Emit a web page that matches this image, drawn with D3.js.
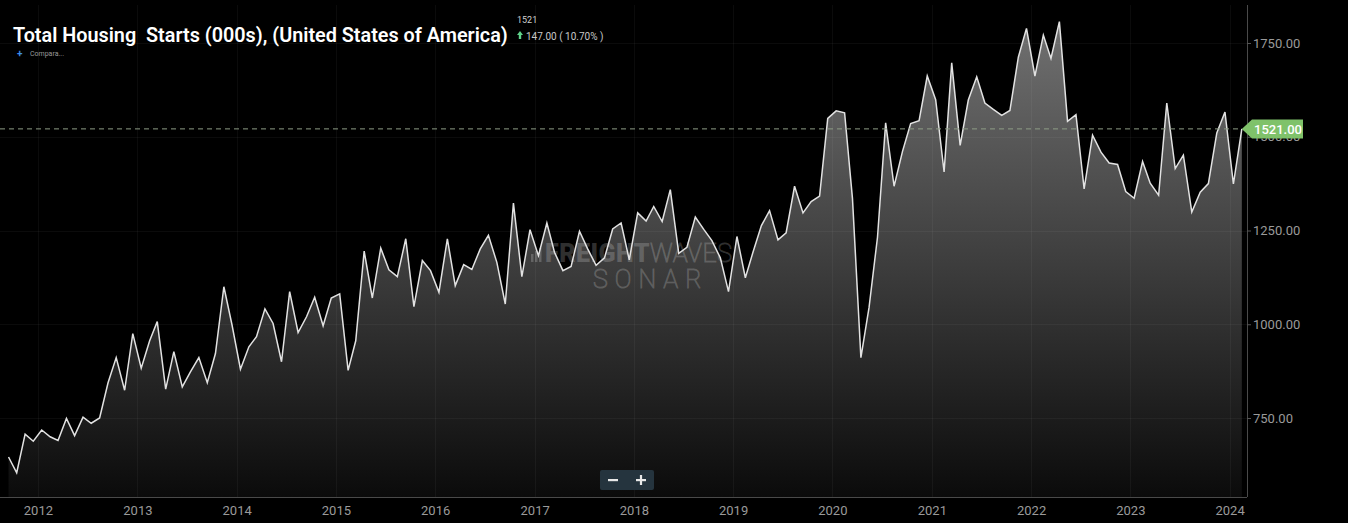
<!DOCTYPE html>
<html><head><meta charset="utf-8">
<script src="https://cdn.jsdelivr.net/npm/d3@7"></script>
<style>
html,body{margin:0;padding:0;background:#000;overflow:hidden;}
svg{display:block;}
text{font-family:Roboto,"Noto Sans",sans-serif;}
</style></head><body>
<svg id="chart" width="1348" height="523"></svg>
<script>
// ---- data (thousands of units, SAAR), monthly from Sep 2011 to Feb 2024 ----
const firstYear = 2011, firstMonth = 8; // September (0-based)
const starts2011 = [646, 604, 707, 688];
const starts2012 = [718, 700, 690, 749, 703, 752, 736, 750, 844, 911, 824, 975];
const starts2013 = [883, 956, 1007, 827, 927, 833, 873, 911, 844, 922, 1100, 998];
const starts2014 = [880, 940, 967, 1041, 1002, 900, 1087, 978, 1020, 1072, 996, 1070];
const starts2015 = [1081, 877, 956, 1195, 1070, 1203, 1145, 1127, 1228, 1047, 1170, 1143];
const starts2016 = [1085, 1228, 1103, 1159, 1146, 1201, 1237, 1165, 1054, 1323, 1127, 1252];
const starts2017 = [1183, 1270, 1192, 1143, 1154, 1248, 1201, 1157, 1177, 1254, 1270, 1172];
const starts2018 = [1297, 1275, 1314, 1274, 1359, 1189, 1205, 1286, 1253, 1223, 1177, 1087];
const starts2019 = [1234, 1124, 1192, 1263, 1303, 1225, 1244, 1368, 1297, 1327, 1342, 1549];
const starts2020 = [1569, 1564, 1335, 911, 1045, 1232, 1537, 1368, 1461, 1535, 1543, 1662];
const starts2021 = [1599, 1406, 1697, 1477, 1598, 1660, 1590, 1573, 1557, 1570, 1712, 1789];
const starts2022 = [1662, 1771, 1709, 1807, 1541, 1559, 1361, 1504, 1459, 1430, 1426, 1354];
const starts2023 = [1336, 1434, 1376, 1344, 1590, 1415, 1451, 1299, 1352, 1375, 1510, 1566];
const starts2024 = [1374, 1521];

const yTicks = [750, 1000, 1250, 1500, 1750];
const titleText = "Total Housing  Starts (000s), (United States of America)";
const lastValueText = "1521";
const changeText = "147.00 ( 10.70% )";
const lastLabelText = "1521.00";
const lastValue = 1521;

// ---- build series ----
const allValues = [].concat(starts2011, starts2012, starts2013, starts2014, starts2015,
  starts2016, starts2017, starts2018, starts2019, starts2020, starts2021, starts2022,
  starts2023, starts2024);
const data = allValues.map((v, i) => ({
  date: new Date(firstYear, firstMonth + i, 15),
  value: v
}));

const svg = d3.select("#chart");
const W = 1348, H = 523;
const plotRight = 1247, plotTop = 5, plotBottom = 497;

svg.append("rect").attr("width", W).attr("height", H).attr("fill", "#000");

const x = d3.scaleTime()
  .domain([new Date(2011, 7, 1), new Date(2024, 2, 1)])
  .range([-3.7, 1245.9]);
const y = d3.scaleLinear().domain([750, 1750]).range([418, 43]);

// gradient
const defs = svg.append("defs");
const grad = defs.append("linearGradient").attr("id", "fillGrad")
  .attr("gradientUnits", "userSpaceOnUse")
  .attr("x1", 0).attr("x2", 0).attr("y1", 15).attr("y2", plotBottom);
grad.append("stop").attr("offset", "0%").attr("stop-color", "#727272");
grad.append("stop").attr("offset", "45%").attr("stop-color", "#444444");
grad.append("stop").attr("offset", "100%").attr("stop-color", "#0b0b0b");

// area + line
const area = d3.area().x(d => x(d.date)).y0(plotBottom).y1(d => y(d.value));
const line = d3.line().x(d => x(d.date)).y(d => y(d.value));

svg.append("path").datum(data).attr("d", area).attr("fill", "url(#fillGrad)");

// grid lines (over fill, faint)
const years = x.ticks(d3.timeYear.every(1));
svg.append("g").selectAll("line").data(years).join("line")
  .attr("x1", d => Math.round(x(d)) + 0.5).attr("x2", d => Math.round(x(d)) + 0.5)
  .attr("y1", plotTop).attr("y2", plotBottom)
  .attr("stroke", "rgba(255,255,255,0.045)").attr("stroke-width", 1);
svg.append("g").selectAll("line").data(yTicks).join("line")
  .attr("x1", 0).attr("x2", plotRight)
  .attr("y1", d => Math.round(y(d)) + 0.5).attr("y2", d => Math.round(y(d)) + 0.5)
  .attr("stroke", "rgba(255,255,255,0.045)").attr("stroke-width", 1);

// watermark
const wm = svg.append("g");
wm.append("g").selectAll("rect").data([0, 1, 2]).join("rect")
  .attr("x", (d) => 531 + d * 4).attr("y", (d) => 254 - d * 3)
  .attr("width", 2.5).attr("height", (d) => 8 + d * 3)
  .attr("fill", "rgba(255,255,255,0.2)");
const wmt = wm.append("text").attr("x", 545).attr("y", 262)
  .attr("font-size", 25).attr("letter-spacing", 0.5);
wmt.append("tspan").text("FREIGHT").attr("font-weight", 900).attr("fill", "rgba(255,255,255,0.2)");
wmt.append("tspan").text("WAVES").attr("font-weight", 100)
  .attr("fill", "none").attr("stroke", "rgba(255,255,255,0.2)").attr("stroke-width", 1);
wm.append("text").attr("x", 593).attr("y", 288).text("SONAR")
  .attr("font-size", 25).attr("font-weight", 100).attr("letter-spacing", 7)
  .attr("fill", "none").attr("stroke", "rgba(255,255,255,0.2)").attr("stroke-width", 1);

// line
svg.append("path").datum(data).attr("d", line)
  .attr("fill", "none").attr("stroke", "#e2e2e2").attr("stroke-width", 1.5)
  .attr("stroke-linejoin", "miter");

// dashed last-value line
const lastX = x(data[data.length - 1].date);
svg.append("line").attr("x1", 0).attr("x2", lastX)
  .attr("y1", y(lastValue)).attr("y2", y(lastValue))
  .attr("stroke", "#8d9c85").attr("stroke-width", 1).attr("stroke-dasharray", "5,4");

// axes frame
svg.append("line").attr("x1", plotRight + 0.5).attr("x2", plotRight + 0.5)
  .attr("y1", plotTop).attr("y2", plotBottom).attr("stroke", "#4a4a4a");
svg.append("line").attr("x1", 0).attr("x2", plotRight)
  .attr("y1", plotBottom + 0.5).attr("y2", plotBottom + 0.5).attr("stroke", "#4a4a4a");

// right axis
const yAxis = svg.append("g").attr("transform", `translate(${plotRight},0)`)
  .call(d3.axisRight(y).tickValues(yTicks).tickFormat(d3.format(".2f")).tickSize(4).tickPadding(2));
yAxis.select(".domain").remove();
yAxis.selectAll("line").attr("stroke", "#555");
yAxis.selectAll("text").attr("fill", "#9a9a9a").attr("font-size", 13)
  .attr("font-family", "Roboto, sans-serif");

// bottom axis
const xAxis = svg.append("g").attr("transform", `translate(0,${plotBottom})`)
  .call(d3.axisBottom(x).ticks(d3.timeYear.every(1)).tickFormat(d3.timeFormat("%Y")).tickSize(0).tickPadding(9));
xAxis.select(".domain").remove();
xAxis.selectAll("text").attr("fill", "#9a9a9a").attr("font-size", 13)
  .attr("font-family", "Roboto, sans-serif");

// last value label (covers most of the 1500.00 tick label, as in the reference)
const ly = y(lastValue);
svg.append("path")
  .attr("d", `M${lastX},${ly} L1252,${ly - 9.5} H1303 V${ly + 9.5} H1252 Z`)
  .attr("fill", "#7fc26a");
svg.append("text").attr("x", 1254).attr("y", ly + 4.8).text(lastLabelText)
  .attr("fill", "#ffffff").attr("font-size", 13).attr("font-weight", 500);

// title (horizontally condensed to the reference width)
const title = svg.append("text").attr("x", 0).attr("y", 0).text(titleText)
  .attr("fill", "#ffffff").attr("font-size", 21).attr("font-weight", 600)
  .style("white-space", "pre");
const natW = title.node().getComputedTextLength();
title.attr("transform", `translate(13,42) scale(${495 / natW},1)`);

svg.append("text").attr("x", 517).attr("y", 23).text(lastValueText)
  .attr("fill", "#cfcfcf").attr("font-size", 9);
svg.append("path").attr("d", "M520,31 L523,35 H521.2 V39 H518.8 V35 H517 Z").attr("fill", "#5fd38a");
svg.append("text").attr("x", 526).attr("y", 40).text(changeText)
  .attr("fill", "#c8c8c8").attr("font-size", 10);

svg.append("text").attr("x", 17).attr("y", 57).text("+")
  .attr("fill", "#3d8ee6").attr("font-size", 10).attr("font-weight", 700);
svg.append("text").attr("x", 30).attr("y", 56).text("Compara...")
  .attr("fill", "#9a9a9a").attr("font-size", 7);

// zoom buttons
svg.append("rect").attr("x", 600).attr("y", 470).attr("width", 54).attr("height", 20)
  .attr("rx", 2).attr("fill", "#25343e");
svg.append("rect").attr("x", 608).attr("y", 479).attr("width", 10).attr("height", 2.2).attr("fill", "#e8e8e8");
svg.append("rect").attr("x", 636).attr("y", 479).attr("width", 10).attr("height", 2.2).attr("fill", "#e8e8e8");
svg.append("rect").attr("x", 639.9).attr("y", 475).attr("width", 2.2).attr("height", 10).attr("fill", "#e8e8e8");
</script>
</body></html>
